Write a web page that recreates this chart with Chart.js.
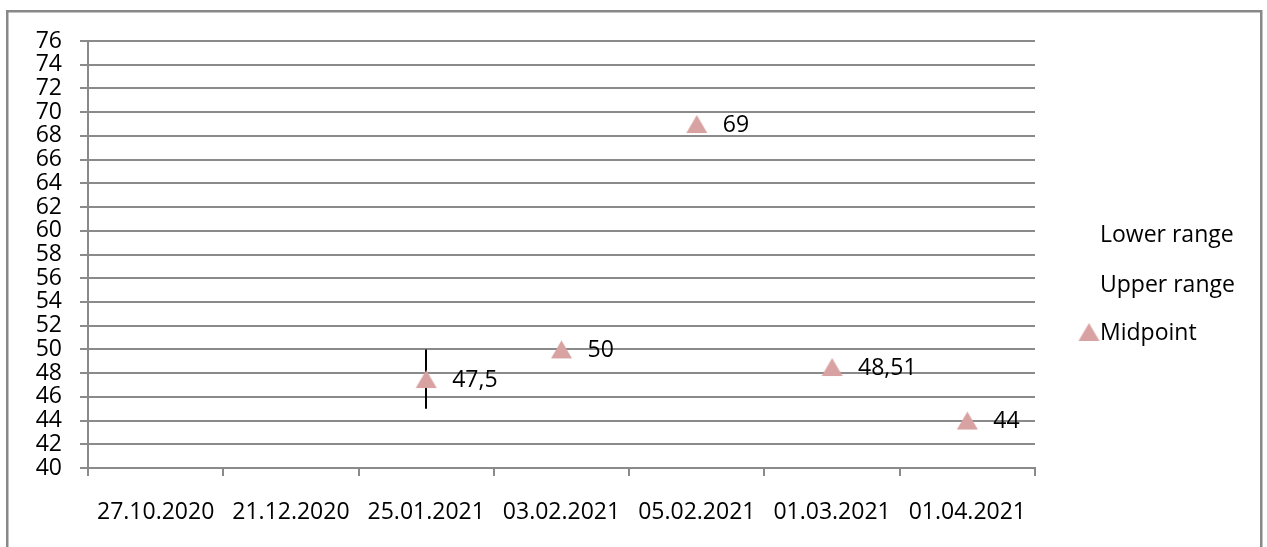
<!DOCTYPE html>
<html lang="en">
    <head>
        <meta charset="UTF-8" />
        <title>Range chart</title>
        <script src="https://cdn.jsdelivr.net/npm/chart.js@4"></script>
        <style>
            * {
                padding: 0;
                margin: 0;
                box-sizing: border-box;
            }

            body {
                background-color: #fff;
                overflow: hidden;
            }

            .chart-container {
                width: 1267px;
                height: 547px;
                position: relative;
            }
        </style>
    </head>
    <body>
        <div class="chart-container">
            <canvas id="rangeChart"></canvas>
        </div>

        <script>
            const dates = [
                "27.10.2020",
                "21.12.2020",
                "25.01.2021",
                "03.02.2021",
                "05.02.2021",
                "01.03.2021",
                "01.04.2021",
            ];
            const lowerRange = [null, null, 45, null, null, null, null];
            const upperRange = [null, null, 50, null, null, null, null];
            const midpoint = [null, null, 47.5, 50, 69, 48.51, 44];
            const yTicks = { min: 40, max: 76, step: 2 };

            const FONT = "'Open Sans', sans-serif";
            const FSIZE = 23;
            const GRID = "#8a8a8a";
            const TRI = "#d9a2a2";

            // triangle marker, centred on its bounding box like the original
            function makeTriangle(w, h) {
                const c = document.createElement("canvas");
                c.width = w + 2;
                c.height = h + 2;
                const g = c.getContext("2d");
                g.fillStyle = TRI;
                g.beginPath();
                g.moveTo(c.width / 2, 1);
                g.lineTo(w + 1, h + 1);
                g.lineTo(1, h + 1);
                g.closePath();
                g.fill();
                return c;
            }
            const triangle = makeTriangle(21, 18);

            const extrasPlugin = {
                id: "extras",
                afterDatasetsDraw(chart) {
                    const { ctx, scales } = chart;
                    const x = scales.x;
                    const y = scales.y;
                    // high-low line
                    ctx.save();
                    ctx.strokeStyle = "#000";
                    ctx.lineWidth = 2;
                    lowerRange.forEach((lo, i) => {
                        const hi = upperRange[i];
                        if (lo == null || hi == null) return;
                        const px = Math.round(x.getPixelForValue(i));
                        ctx.beginPath();
                        ctx.moveTo(px, y.getPixelForValue(hi));
                        ctx.lineTo(px, y.getPixelForValue(lo));
                        ctx.stroke();
                    });
                    ctx.restore();
                    // markers on top of the line
                    midpoint.forEach((v, i) => {
                        if (v == null) return;
                        const px = x.getPixelForValue(i);
                        const py = y.getPixelForValue(v);
                        ctx.drawImage(
                            triangle,
                            px - triangle.width / 2,
                            py - triangle.height / 2
                        );
                    });
                    // data labels
                    ctx.save();
                    ctx.fillStyle = "#000";
                    ctx.font = FSIZE + "px " + FONT;
                    ctx.textBaseline = "middle";
                    ctx.textAlign = "left";
                    midpoint.forEach((v, i) => {
                        if (v == null) return;
                        const px = x.getPixelForValue(i);
                        const py = y.getPixelForValue(v);
                        ctx.fillText(String(v).replace(".", ","), px + 26, py + 1);
                    });
                    ctx.restore();
                },
                afterDraw(chart) {
                    const ctx = chart.ctx;
                    ctx.save();
                    // legend
                    ctx.font = FSIZE + "px " + FONT;
                    ctx.fillStyle = "#000";
                    ctx.textBaseline = "middle";
                    const names = chart.data.datasets.map((d) => d.label);
                    const ys = [235, 285, 333];
                    names.forEach((n, i) => {
                        ctx.fillText(n, 1100, ys[i]);
                    });
                    ctx.drawImage(triangle, 1089 - triangle.width / 2, 332 - triangle.height / 2);
                    // outer frame
                    ctx.strokeStyle = "#888";
                    ctx.lineWidth = 2.5;
                    ctx.strokeRect(7.25, 11.25, 1254, 600);
                    ctx.restore();
                },
            };

            new Chart(document.getElementById("rangeChart"), {
                type: "line",
                data: {
                    labels: dates,
                    datasets: [
                        {
                            label: "Lower range",
                            data: lowerRange,
                            showLine: false,
                            pointRadius: 0,
                        },
                        {
                            label: "Upper range",
                            data: upperRange,
                            showLine: false,
                            pointRadius: 0,
                        },
                        {
                            label: "Midpoint",
                            data: midpoint,
                            showLine: false,
                            pointRadius: 0,
                        },
                    ],
                },
                options: {
                    responsive: true,
                    maintainAspectRatio: false,
                    animation: false,
                    layout: {
                        padding: { left: 8, top: 41, right: 232, bottom: 0 },
                    },
                    plugins: {
                        legend: { display: false },
                        tooltip: { enabled: false },
                    },
                    scales: {
                        x: {
                            offset: true,
                            grid: {
                                offset: true,
                                drawOnChartArea: false,
                                color: GRID,
                                lineWidth: 2,
                                tickLength: 8,
                            },
                            border: { color: GRID, width: 2 },
                            ticks: {
                                color: "#000",
                                font: { family: FONT, size: FSIZE },
                                padding: 23,
                                maxRotation: 0,
                                autoSkip: false,
                            },
                            afterFit(scale) {
                                scale.height = 79;
                            },
                        },
                        y: {
                            min: yTicks.min,
                            max: yTicks.max,
                            grid: {
                                color: GRID,
                                lineWidth: 2,
                                tickLength: 8,
                            },
                            border: { color: GRID, width: 2 },
                            ticks: {
                                stepSize: yTicks.step,
                                autoSkip: false,
                                color: "#000",
                                font: { family: FONT, size: FSIZE },
                                padding: 18,
                            },
                            afterFit(scale) {
                                scale.width = 80;
                            },
                        },
                    },
                },
                plugins: [extrasPlugin],
            });
        </script>
    </body>
</html>
